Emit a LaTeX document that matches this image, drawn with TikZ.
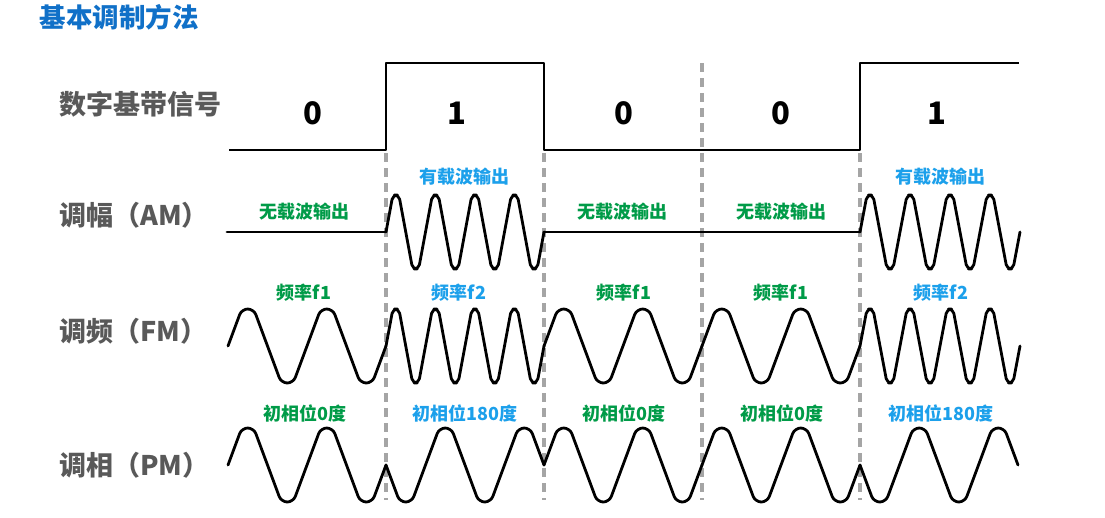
\documentclass[tikz,border=0pt]{standalone}
\usepackage{fontspec}
\setmainfont{Noto Sans CJK SC}
\definecolor{ttl}{RGB}{16,112,200}
\definecolor{grn}{RGB}{0,155,72}
\definecolor{lbl}{RGB}{28,160,235}
\definecolor{gry}{RGB}{89,89,89}
\definecolor{dsh}{RGB}{165,165,165}
\tikzset{
  wave/.style={line width=2.8pt, black, line join=round, line cap=round},
  sig/.style={line width=2.8pt, black, line join=round},
  dline/.style={line width=3.6pt, dsh, dash pattern=on 9pt off 6pt},
  rowlabel/.style={anchor=west, inner sep=0pt, text=gry, font=\bfseries\fontsize{27pt}{29pt}\selectfont},
  bit/.style={inner sep=0pt, text=black, font=\bfseries\fontsize{31pt}{33pt}\selectfont},
  gtxt/.style={inner sep=0pt, text=grn, font=\bfseries\fontsize{18pt}{20pt}\selectfont},
  btxt/.style={inner sep=0pt, text=lbl, font=\bfseries\fontsize{18pt}{20pt}\selectfont},
}
% x0, period, cycles, sign, mid, amplitude, plateau, radius
\newcommand{\wseg}[8]{%
  \draw[wave, rounded corners=#8] (#1,#5)
    \foreach \i in {1,...,#3} {
      -- ({#1+(\i-1)*#2+#2/4-#7/2},{#5-(#4)*#6})
      -- ({#1+(\i-1)*#2+#2/4+#7/2},{#5-(#4)*#6})
      -- ({#1+(\i-1)*#2+3*#2/4-#7/2},{#5+(#4)*#6})
      -- ({#1+(\i-1)*#2+3*#2/4+#7/2},{#5+(#4)*#6})
    } -- ({#1+#3*#2},#5);}
\begin{document}
\begin{tikzpicture}[x=1pt,y=-1pt]
\useasboundingbox (0,0) rectangle (1105,517);
\fill[white] (0,0) rectangle (1105,517);

% title and row labels
\node[inner sep=0pt, text=ttl, font=\bfseries\fontsize{26.5pt}{28pt}\selectfont] (title) at (119,17) {基本调制方法};
\node[rowlabel] (lbd) at (59,104) {数字基带信号};
\node[rowlabel] (lam) at (59,215) {调幅（AM）};
\node[rowlabel] (lfm) at (59,331) {调频（FM）};
\node[rowlabel] (lpm) at (59,465) {调相（PM）};

% dashed separators
\draw[dline] (386,153) -- (386,500);
\draw[dline] (544,153) -- (544,500);
\draw[dline] (702,63) -- (702,500);
\draw[dline] (860,153) -- (860,500);

% digital baseband signal
\draw[sig] (229,150) -- (386,150) -- (386,63) -- (544,63) -- (544,150) -- (860,150) -- (860,63) -- (1019,63);
\node[bit] (b1) at (313,113) {0};
\node[bit] (b2) at (457,113) {1};
\node[bit] (b3) at (624,113) {0};
\node[bit] (b4) at (781,113) {0};
\node[bit] (b5) at (937,113) {1};

% AM
\draw[wave] (227,232) -- (386,232);
\wseg{386}{39.5}{4}{1}{232}{37}{6}{4.5pt}
\draw[wave] (544,232) -- (860,232);
\wseg{860}{40}{4}{1}{232}{37}{6}{4.5pt}
\node[gtxt] (am1) at (304,212) {无载波输出};
\node[btxt] (am2) at (464,177) {有载波输出};
\node[gtxt] (am3) at (622,212) {无载波输出};
\node[gtxt] (am4) at (781,212) {无载波输出};
\node[btxt] (am5) at (940,177) {有载波输出};

% FM
\wseg{228}{79}{2}{1}{346}{37}{12}{6pt}
\wseg{386}{39.5}{4}{1}{346}{37}{6}{4.5pt}
\wseg{544}{79}{2}{1}{346}{37}{12}{6pt}
\wseg{702}{79}{2}{1}{346}{37}{12}{6pt}
\wseg{860}{40}{4}{1}{346}{37}{6}{4.5pt}
\node[gtxt] (fm1) at (304,293) {频率f1};
\node[btxt] (fm2) at (459,293) {频率f2};
\node[gtxt] (fm3) at (624,293) {频率f1};
\node[gtxt] (fm4) at (781,293) {频率f1};
\node[btxt] (fm5) at (941,293) {频率f2};

% PM
\wseg{228}{79}{2}{1}{465}{37}{12}{6pt}
\wseg{386}{79}{2}{-1}{465}{37}{12}{6pt}
\wseg{544}{79}{2}{1}{465}{37}{12}{6pt}
\wseg{702}{79}{2}{1}{465}{37}{12}{6pt}
\wseg{860}{79}{2}{-1}{465}{37}{12}{6pt}
\node[gtxt] (pm1) at (305,413) {初相位0度};
\node[btxt] (pm2) at (465,413) {初相位180度};
\node[gtxt] (pm3) at (624,413) {初相位0度};
\node[gtxt] (pm4) at (782,413) {初相位0度};
\node[btxt] (pm5) at (941,413) {初相位180度};
\end{tikzpicture}
\end{document}
